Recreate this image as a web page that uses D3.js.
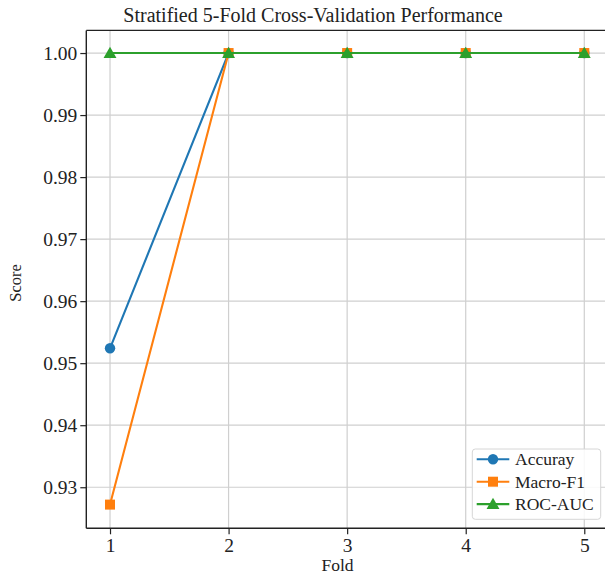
<!DOCTYPE html>
<html>
<head>
<meta charset="utf-8">
<script src="https://cdn.jsdelivr.net/npm/d3@7"></script>
<style>
  body { margin: 0; background: #fff; }
  svg text { font-family: "Liberation Serif", "Tinos", "Times New Roman", "DejaVu Serif", serif !important; }
</style>
</head>
<body>
<svg></svg>
<script>
const [WIDTH, HEIGHT] = [605, 575]

// data
const folds = [1, 2, 3, 4, 5]
const accuracy = [0.9524, 1.0, 1.0, 1.0, 1.0]
const macroF1 = [0.9272, 1.0, 1.0, 1.0, 1.0]
const rocAuc = [1.0, 1.0, 1.0, 1.0, 1.0]
const yTicks = [0.93, 0.94, 0.95, 0.96, 0.97, 0.98, 0.99, 1.00]
const seriesNames = ["Accuray", "Macro-F1", "ROC-AUC"]

const colors = ["#1f77b4", "#ff7f0e", "#2ca02c"]
const shapes = [d3.symbolCircle, d3.symbolSquare, d3.symbolTriangle]
const symSizes = [85, 100, 72]

const plot = { left: 86.3, right: 608, top: 30.4, bottom: 528.3 }

const svg = d3.select("svg")
    .attr("width", WIDTH)
    .attr("height", HEIGHT)

const x = d3.scaleLinear().domain([0.8, 5.2]).range([plot.left, plot.right])
const y = d3.scaleLinear().domain([0.92338, 1.00365]).range([plot.bottom, plot.top])

// grid
const grid = svg.append("g")
grid.selectAll(".gx").data(folds).enter().append("line")
    .attr("x1", d => x(d)).attr("x2", d => x(d))
    .attr("y1", plot.top).attr("y2", plot.bottom)
    .attr("stroke", "#cfcfcf").attr("stroke-width", 1.2)
grid.selectAll(".gy").data(yTicks).enter().append("line")
    .attr("x1", plot.left).attr("x2", plot.right)
    .attr("y1", d => y(d)).attr("y2", d => y(d))
    .attr("stroke", "#cfcfcf").attr("stroke-width", 1.2)

// lines + markers
const allSeries = [accuracy, macroF1, rocAuc]
const line = d3.line().x((d, i) => x(folds[i])).y(d => y(d))
allSeries.forEach((vals, k) => {
    svg.append("path")
        .datum(vals)
        .attr("d", line)
        .attr("fill", "none")
        .attr("stroke", colors[k])
        .attr("stroke-width", 2.1)
    svg.selectAll(".m" + k).data(vals).enter().append("path")
        .attr("d", d3.symbol().type(shapes[k]).size(symSizes[k]))
        .attr("transform", (d, i) => `translate(${x(folds[i])},${y(d) + (k === 2 ? 1.2 : 0)})`)
        .attr("fill", colors[k])
})

// axes
const xAxis = svg.append("g")
    .attr("transform", `translate(0,${plot.bottom})`)
    .call(d3.axisBottom(x).tickValues(folds).tickFormat(d3.format("d")).tickSize(6).tickPadding(4))
const yAxis = svg.append("g")
    .attr("transform", `translate(${plot.left},0)`)
    .call(d3.axisLeft(y).tickValues(yTicks).tickFormat(d3.format(".2f")).tickSize(6).tickPadding(3))
for (const ax of [xAxis, yAxis]) {
    ax.select(".domain").remove()
    ax.selectAll("line").attr("stroke", "#222").attr("stroke-width", 1.2)
    ax.selectAll("text").attr("font-size", 19.5).attr("fill", "#222")
}

// spines
const spines = [
    [plot.left, plot.top, plot.left, plot.bottom],
    [plot.left, plot.bottom, plot.right, plot.bottom],
    [plot.left, plot.top, plot.right, plot.top],
    [plot.right, plot.top, plot.right, plot.bottom]
]
svg.selectAll(".spine").data(spines).enter().append("line")
    .attr("x1", d => d[0]).attr("y1", d => d[1]).attr("x2", d => d[2]).attr("y2", d => d[3])
    .attr("stroke", "#222").attr("stroke-width", 1.4)

// title and labels
svg.append("text").attr("x", 313).attr("y", 22).attr("text-anchor", "middle")
    .attr("font-size", 20).attr("fill", "#222")
    .text("Stratified 5-Fold Cross-Validation Performance")
svg.append("text").attr("x", 337.5).attr("y", 571).attr("text-anchor", "middle")
    .attr("font-size", 17.5).attr("fill", "#222").text("Fold")
svg.append("text").attr("transform", "translate(21,283) rotate(-90)").attr("text-anchor", "middle")
    .attr("font-size", 16.5).attr("fill", "#222").text("Score")

// legend
const lg = svg.append("g").attr("transform", "translate(472.3,449)")
lg.append("rect").attr("width", 128.4).attr("height", 70.3).attr("rx", 3)
    .attr("fill", "#fff").attr("fill-opacity", 0.85).attr("stroke", "#d6d6d6").attr("stroke-width", 1)
seriesNames.forEach((name, k) => {
    const ly = 10.3 + k * 22.4
    lg.append("line").attr("x1", 4.4).attr("x2", 37).attr("y1", ly).attr("y2", ly)
        .attr("stroke", colors[k]).attr("stroke-width", 2.1)
    lg.append("path").attr("d", d3.symbol().type(shapes[k]).size(symSizes[k]))
        .attr("transform", `translate(20.7,${ly + (k === 2 ? 1.2 : 0)})`).attr("fill", colors[k])
    lg.append("text").attr("x", 42.7).attr("y", ly).attr("dy", "0.35em")
        .attr("font-size", 17.5).attr("fill", "#222").text(name)
})
</script>
</body>
</html>
